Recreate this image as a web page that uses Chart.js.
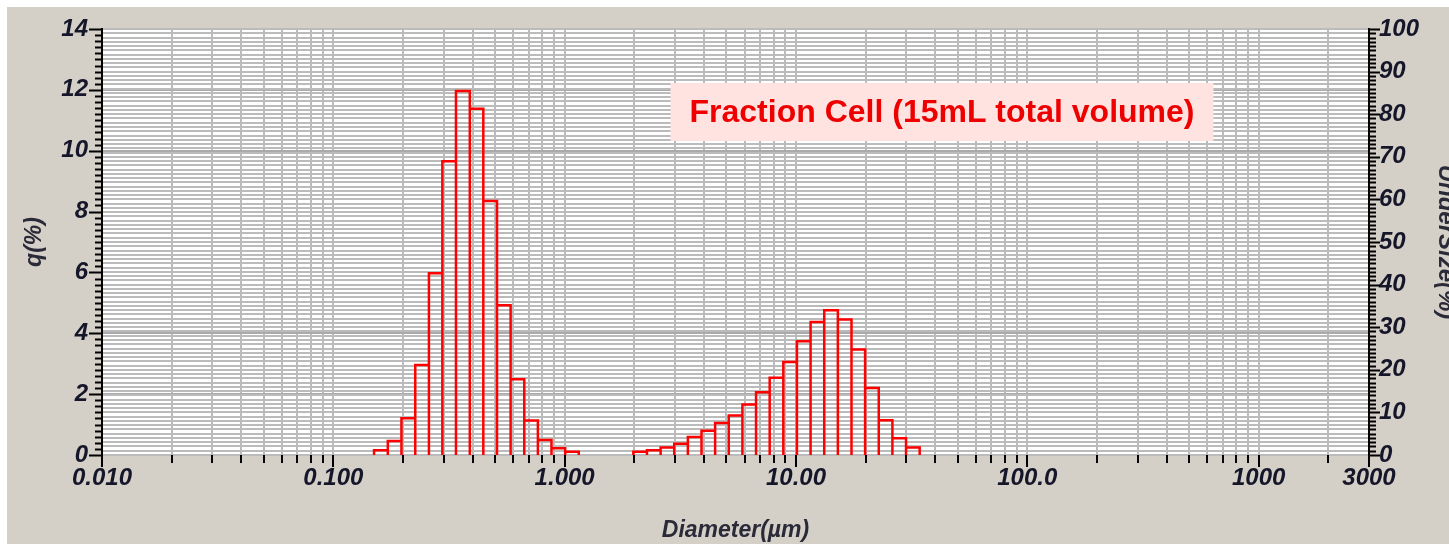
<!DOCTYPE html>
<html>
<head>
<meta charset="utf-8">
<script src="https://cdn.jsdelivr.net/npm/chart.js@4.4.1/dist/chart.umd.min.js"></script>
<style>
  html, body { margin: 0; padding: 0; background: #ffffff; }
  #wrap { width: 1449px; height: 544px; position: relative; }
</style>
</head>
<body>
<div id="wrap"><canvas id="psd" width="1449" height="544"></canvas></div>
<script>
// Size-class boundaries (µm) of the occupied channels and the q(%) of each channel
const fineEdges = [0.150, 0.172, 0.197, 0.226, 0.259, 0.296, 0.339, 0.389, 0.445, 0.510, 0.584, 0.669, 0.766, 0.877, 1.005, 1.151];
const fineQ = [0.16, 0.46, 1.21, 2.96, 5.97, 9.65, 11.96, 11.38, 8.35, 4.92, 2.49, 1.13, 0.49, 0.22, 0.11];
const coarseEdges = [1.981, 2.269, 2.599, 2.976, 3.409, 3.905, 4.472, 5.122, 5.867, 6.720, 7.697, 8.816, 10.097, 11.565, 13.246, 15.172, 17.377, 19.904, 22.797, 26.111, 29.907, 34.255];
const coarseQ = [0.11, 0.16, 0.25, 0.37, 0.59, 0.80, 1.05, 1.30, 1.66, 2.06, 2.54, 3.06, 3.74, 4.37, 4.76, 4.45, 3.47, 2.20, 1.14, 0.55, 0.25];

// Axis ranges and labelled ticks
const diameterRange = [0.01, 3000];
const diameterLabelValues = [0.01, 0.1, 1, 10, 100, 1000, 3000];
const diameterLabels = ['0.010', '0.100', '1.000', '10.00', '100.0', '1000', '3000'];
const qRange = [0, 14];
const qLabelStep = 2;
const qMinorStep = 0.2;
const underSizeRange = [0, 100];
const underSizeLabelStep = 10;
const underSizeMinorStep = 1;

const chartTitle = 'Fraction Cell (15mL total volume)';

// Tick values for the log diameter axis (1..9 per decade, then 2000, 3000)
function diameterTickValues() {
  const vals = [];
  for (let d = -2; d <= 2; d++) {
    for (let m = 1; m <= 9; m++) vals.push(+(m * Math.pow(10, d)).toPrecision(6));
  }
  vals.push(1000, 2000, 3000);
  return vals;
}
function stepValues(lo, hi, step) {
  const n = Math.round((hi - lo) / step);
  const vals = [];
  for (let i = 0; i <= n; i++) vals.push(+(lo + i * step).toFixed(6));
  return vals;
}
const isMultiple = (v, step) => Math.abs(v / step - Math.round(v / step)) < 1e-6;

// Histogram outline: each channel is a rectangle from its lower to its upper boundary
function channelOutline(edges, q) {
  const pts = [];
  for (let i = 0; i < q.length; i++) {
    pts.push({ x: edges[i], y: 0 }, { x: edges[i], y: q[i] },
             { x: edges[i + 1], y: q[i] }, { x: edges[i + 1], y: 0 });
  }
  return pts;
}

const TICK_FONT = { family: '"Liberation Sans", Arial, sans-serif', size: 24, weight: 'bold', style: 'italic' };
const TITLE_FONT = { family: '"Liberation Sans", Arial, sans-serif', size: 23, weight: 'bold', style: 'italic' };
const TEXT_COLOR = '#16162a';
const GRID_COLOR = '#bbbbbb';

// Panel background, plot backdrop, tick marks and the boxed caption
const panelPlugin = {
  id: 'panel',
  beforeDraw(chart) {
    const { ctx, chartArea: a, width, height } = chart;
    ctx.save();
    ctx.fillStyle = '#ffffff';
    ctx.fillRect(0, 0, width, height);
    ctx.fillStyle = '#d4d0c8';
    ctx.fillRect(7, 7, width - 7, height - 7);
    ctx.fillStyle = '#ffffff';
    ctx.fillRect(a.left, a.top, a.right - a.left, a.bottom - a.top);
    ctx.restore();
  },
  afterDraw(chart) {
    const { ctx, chartArea: a, scales } = chart;
    ctx.save();
    ctx.strokeStyle = '#000000';
    ctx.lineWidth = 2;
    // bottom ticks
    scales.x.ticks.forEach(t => {
      const px = Math.round(scales.x.getPixelForValue(t.value));
      const major = diameterLabelValues.includes(t.value);
      ctx.beginPath();
      ctx.moveTo(px, a.bottom);
      ctx.lineTo(px, a.bottom + (major ? 12 : 8));
      ctx.stroke();
    });
    // left ticks
    scales.y.ticks.forEach(t => {
      const py = Math.round(scales.y.getPixelForValue(t.value)) + 0.5;
      const major = isMultiple(t.value, qLabelStep);
      ctx.beginPath();
      ctx.moveTo(a.left, py);
      ctx.lineTo(a.left - (major ? 13 : 7), py);
      ctx.stroke();
    });
    // right ticks
    scales.y2.ticks.forEach(t => {
      const py = Math.round(scales.y2.getPixelForValue(t.value)) + 0.5;
      const major = isMultiple(t.value, underSizeLabelStep);
      ctx.beginPath();
      ctx.moveTo(a.right, py);
      ctx.lineTo(a.right + (major ? 11 : 7), py);
      ctx.stroke();
    });
    // caption box
    const cx = 942, cy = 112;
    ctx.font = 'bold 32px "Liberation Sans", Arial, sans-serif';
    const w = ctx.measureText(chartTitle).width;
    ctx.fillStyle = '#ffe3e1';
    ctx.fillRect(cx - w / 2 - 19, cy - 29, w + 38, 58);
    ctx.fillStyle = '#ee0000';
    ctx.textAlign = 'center';
    ctx.textBaseline = 'middle';
    ctx.fillText(chartTitle, cx, cy + 1);
    ctx.restore();
  }
};

const lineStyle = {
  showLine: true, pointRadius: 0, borderColor: '#ff0000', borderWidth: 2.5,
  tension: 0, fill: false, borderJoinStyle: 'miter', xAxisID: 'x', yAxisID: 'y'
};

new Chart(document.getElementById('psd'), {
  type: 'scatter',
  data: {
    datasets: [
      Object.assign({ label: 'q fine', data: channelOutline(fineEdges, fineQ) }, lineStyle),
      Object.assign({ label: 'q coarse', data: channelOutline(coarseEdges, coarseQ) }, lineStyle)
    ]
  },
  options: {
    responsive: false,
    devicePixelRatio: 1,
    animation: false,
    events: [],
    layout: { padding: { top: 29, left: 0, right: 0, bottom: 0 } },
    plugins: { legend: { display: false }, tooltip: { enabled: false }, title: { display: false } },
    scales: {
      x: {
        type: 'logarithmic',
        position: 'bottom',
        min: diameterRange[0],
        max: diameterRange[1],
        afterBuildTicks(scale) { scale.ticks = diameterTickValues().map(v => ({ value: v })); },
        afterFit(scale) { scale.height = 89; },
        ticks: {
          autoSkip: false, maxRotation: 0, padding: 0,
          font: TICK_FONT, color: TEXT_COLOR,
          callback(value) {
            const i = diameterLabelValues.indexOf(value);
            return i >= 0 ? diameterLabels[i] : '';
          }
        },
        grid: { color: GRID_COLOR, lineWidth: 2, drawTicks: true, tickLength: 9, tickColor: 'rgba(0,0,0,0)' },
        border: { display: false },
        title: { display: true, text: 'Diameter(µm)', font: TITLE_FONT, color: '#2a2a38', padding: { top: 0, bottom: 0 } }
      },
      y: {
        type: 'linear',
        position: 'left',
        min: qRange[0],
        max: qRange[1],
        afterBuildTicks(scale) { scale.ticks = stepValues(qRange[0], qRange[1], qMinorStep).map(v => ({ value: v })); },
        afterFit(scale) { scale.width = 102; },
        ticks: {
          autoSkip: false, padding: 1,
          font: TICK_FONT, color: TEXT_COLOR,
          callback(value) { return isMultiple(value, qLabelStep) ? String(Math.round(value)) : ''; }
        },
        grid: {
          drawTicks: true, tickLength: 13, tickColor: 'rgba(0,0,0,0)', lineWidth: 2,
          color(ctx) { return ctx.tick && isMultiple(ctx.tick.value, qLabelStep) ? '#aaaaaa' : 'rgba(0,0,0,0)'; }
        },
        border: { display: true, color: '#000000', width: 2 },
        title: { display: true, text: 'q(%)', font: TITLE_FONT, color: '#2a2a38', padding: { top: 21, bottom: 0 } }
      },
      y2: {
        type: 'linear',
        position: 'right',
        min: underSizeRange[0],
        max: underSizeRange[1],
        afterBuildTicks(scale) { scale.ticks = stepValues(underSizeRange[0], underSizeRange[1], underSizeMinorStep).map(v => ({ value: v })); },
        afterFit(scale) { scale.width = 80; },
        ticks: {
          autoSkip: false, padding: 0,
          font: TICK_FONT, color: TEXT_COLOR,
          callback(value) { return isMultiple(value, underSizeLabelStep) ? String(Math.round(value)) : ''; }
        },
        grid: { drawOnChartArea: true, color: GRID_COLOR, lineWidth: 2, drawTicks: true, tickLength: 10, tickColor: 'rgba(0,0,0,0)' },
        border: { display: true, color: '#000000', width: 2 },
        title: {
          display: true, text: 'UnderSize(%)', color: '#2a2a38', padding: 0,
          font: Object.assign({}, TITLE_FONT, { size: 24, lineHeight: 0.3 })
        }
      }
    }
  },
  plugins: [panelPlugin]
});
</script>
</body>
</html>
